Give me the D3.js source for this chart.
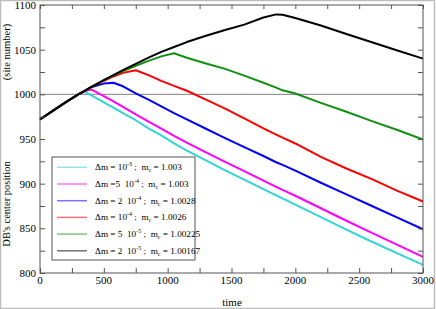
<!DOCTYPE html>
<html lang="en">
  <head>
    <meta charset="UTF-8" />
    <title>DB center position</title>
    <script src="https://d3js.org/d3.v7.min.js"></script>
    <style>
      * {
        margin: 0;
        padding: 0;
      }
      body {
        background: #fff;
      }
      text {
        font-family: "Liberation Serif", "DejaVu Serif", serif;
        fill: #000;
      }
    </style>
  </head>

  <body></body>

  <script>
    // ---- data ----
    const times = [0, 100, 200, 300, 350, 400, 500, 575, 650, 750, 850, 950, 1050, 1150,
      1300, 1450, 1600, 1750, 1850, 1900, 2000, 2200, 2400, 2600, 2800, 3000];

    const cyanY = [972, 981.5, 991, 1000, 1003, 999, 991, 985, 979, 971, 962, 954, 945, 937,
      926, 915, 904.5, 894, 887, 883.5, 876.5, 862.5, 848.5, 835, 822, 809];
    const magentaY = [972, 981.5, 991, 1000, 1004, 1005.5, 998, 992, 986, 977.5, 969.5, 961.5, 953.5, 946,
      935, 924.5, 914, 903.5, 896.5, 893, 886.5, 872.5, 858.5, 845, 831.5, 818];
    const blueY = [972, 981.5, 991, 1000, 1004, 1008, 1012, 1013, 1009, 1001, 994, 986.5, 979, 972,
      961.5, 951, 941, 931, 924, 921, 914.5, 901, 888, 875, 862, 849];
    const redY = [972, 981.5, 991, 1000, 1004, 1008, 1015, 1020, 1024, 1027, 1021.5, 1015, 1009.5, 1004,
      994, 984, 973, 962, 955, 951.5, 945, 930, 917, 905, 892, 880];
    const greenY = [972, 981.5, 991, 1000, 1004, 1008, 1016, 1021, 1026, 1032, 1037.5, 1042.5, 1046, 1041,
      1034.5, 1028.5, 1021, 1013, 1007.5, 1004.5, 1001, 990.5, 980.5, 970, 960, 949.5];
    const blackY = [972, 981.5, 991, 1000, 1004, 1008, 1016, 1021.5, 1027, 1034, 1041, 1047.5, 1053, 1058.5,
      1065.5, 1072, 1078, 1086, 1089.5, 1089, 1085.5, 1077, 1067.5, 1058.3, 1049, 1040];

    const seriesColors = ["#33d4d4", "#ff00ff", "#0000ff", "#ff0000", "#109010", "#000000"];
    const legendPre = ["\u0394m = 10", "\u0394m =5  10", "\u0394m = 2  10", "\u0394m = 10", "\u0394m = 5  10", "\u0394m = 2  10"];
    const legendExp = ["-3", "-4", "-4", "-4", "-5", "-5"];
    const legendMc = ["1.003", "1.003", "1.0028", "1.0026", "1.00225", "1.00167"];

    const xTicks = [0, 500, 1000, 1500, 2000, 2500, 3000];
    const yTicks = [800, 850, 900, 950, 1000, 1050, 1100];

    // ---- layout ----
    let w = 436;
    let h = 309;
    let pLeft = 40, pRight = 423, pTop = 5, pBottom = 273;

    let svg = d3.select("body").append("svg").attr("width", w).attr("height", h);

    // outer frame
    svg.append("rect")
      .attr("x", 0.5).attr("y", 0.5)
      .attr("width", 434).attr("height", 308)
      .attr("fill", "#fff").attr("stroke", "#bdbdbd").attr("stroke-width", 1.5);

    let x = d3.scaleLinear().domain([0, 3000]).range([pLeft, pRight]);
    let y = d3.scaleLinear().domain([800, 1100]).range([pBottom, pTop]);

    // reference line at 1000
    svg.append("line")
      .attr("x1", pLeft).attr("x2", pRight)
      .attr("y1", y(1000)).attr("y2", y(1000))
      .attr("stroke", "#808080").attr("stroke-width", 1);

    // curves
    let allSeries = [cyanY, magentaY, blueY, redY, greenY, blackY];
    let line = d3.line()
      .x((d, i) => x(times[i]))
      .y((d) => y(d));

    svg.append("g")
      .selectAll("path")
      .data(allSeries)
      .enter()
      .append("path")
      .attr("d", line)
      .attr("fill", "none")
      .attr("stroke", (d, i) => seriesColors[i])
      .attr("stroke-width", 2)
      .attr("stroke-linejoin", "round");

    // axes (ticks inside, mirrored)
    let minorX = d3.range(0, 3001, 250);
    let minorY = d3.range(800, 1101, 25);

    let axB = d3.axisBottom(x).tickValues(minorX).tickSize(-5).tickFormat("");
    let axT = d3.axisTop(x).tickValues(minorX).tickSize(-4).tickFormat("");
    let axL = d3.axisLeft(y).tickValues(minorY).tickSize(-5).tickFormat("");
    let axR = d3.axisRight(y).tickValues(minorY).tickSize(-5).tickFormat("");

    [[axB, `translate(0,${pBottom})`], [axT, `translate(0,${pTop})`],
     [axL, `translate(${pLeft},0)`], [axR, `translate(${pRight},0)`]].forEach(([ax, tr]) => {
      let g = svg.append("g").attr("transform", tr).call(ax);
      g.select(".domain").remove();
      g.selectAll("line").attr("stroke", "#555");
    });

    svg.append("rect")
      .attr("x", pLeft).attr("y", pTop)
      .attr("width", pRight - pLeft).attr("height", pBottom - pTop)
      .attr("fill", "none").attr("stroke", "#555").attr("stroke-width", 1);

    // tick labels
    svg.append("g")
      .selectAll("text")
      .data(xTicks)
      .enter()
      .append("text")
      .attr("x", (d) => x(d))
      .attr("y", 284)
      .attr("text-anchor", "middle")
      .style("font-size", "11px")
      .text((d) => d);

    svg.append("g")
      .selectAll("text")
      .data(yTicks)
      .enter()
      .append("text")
      .attr("x", 36)
      .attr("y", (d) => y(d) + 4)
      .attr("text-anchor", "end")
      .style("font-size", "11px")
      .text((d) => d);

    // axis titles
    svg.append("text")
      .attr("x", 232).attr("y", 306)
      .attr("text-anchor", "middle")
      .style("font-size", "11px")
      .text("time");

    svg.append("text")
      .attr("transform", "translate(10,204) rotate(-90)")
      .attr("text-anchor", "middle")
      .style("font-size", "10.5px")
      .text("DB's center position");

    svg.append("text")
      .attr("transform", "translate(10,52) rotate(-90)")
      .attr("text-anchor", "middle")
      .style("font-size", "10.5px")
      .text("(site number)");

    // legend
    let lg = svg.append("g");
    lg.append("rect")
      .attr("x", 52).attr("y", 157)
      .attr("width", 143).attr("height", 103)
      .attr("fill", "#fff").attr("stroke", "#555").attr("stroke-width", 1);

    let rows = lg.selectAll("g.row")
      .data(seriesColors)
      .enter()
      .append("g")
      .attr("class", "row")
      .attr("transform", (d, i) => `translate(0,${167.3 + i * 16.7})`);

    rows.append("line")
      .attr("x1", 57).attr("x2", 87)
      .attr("stroke", (d) => d)
      .attr("stroke-opacity", 0.55)
      .attr("stroke-width", 1.5);

    let lt = rows.append("text")
      .attr("x", 95).attr("y", 3)
      .attr("xml:space", "preserve")
      .style("font-size", "9.2px");
    lt.append("tspan").text((d, i) => legendPre[i]);
    lt.append("tspan").attr("dy", -4).style("font-size", "6px").text((d, i) => legendExp[i]);
    lt.append("tspan").attr("dy", 4).text(" ;  m");
    lt.append("tspan").attr("dy", 2).style("font-size", "6px").text("c");
    lt.append("tspan").attr("dy", -2).text((d, i) => " = " + legendMc[i]);
  </script>
</html>
